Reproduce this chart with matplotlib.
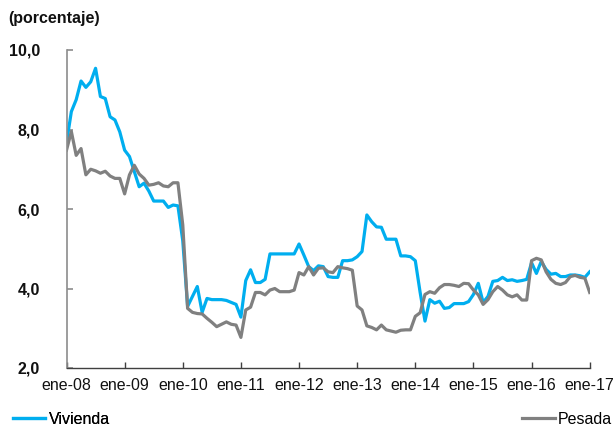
import numpy as np
import matplotlib
matplotlib.use("Agg")
import matplotlib.pyplot as plt

plt.rcParams["font.family"] = ["Liberation Sans", "DejaVu Sans"]

# Monthly rates, ene-2008 .. ene-2017
vivienda = [
    7.66, 8.45, 8.75, 9.22, 9.06, 9.20, 9.54, 8.83, 8.78, 8.32, 8.24, 7.94,
    7.48, 7.32, 6.94, 6.56, 6.65, 6.45, 6.20, 6.20, 6.20, 6.04, 6.10, 6.08,
    5.20, 3.55, 3.80, 4.05, 3.40, 3.75, 3.72, 3.72, 3.72, 3.70, 3.65, 3.60,
    3.28, 4.20, 4.47, 4.15, 4.15, 4.23, 4.87, 4.87, 4.87, 4.87, 4.87, 4.87,
    5.12, 4.84, 4.55, 4.45, 4.57, 4.55, 4.30, 4.28, 4.28, 4.70, 4.70, 4.72,
    4.80, 4.93, 5.85, 5.68, 5.55, 5.54, 5.24, 5.24, 5.24, 4.82, 4.82, 4.80,
    4.70, 3.90, 3.18, 3.72, 3.63, 3.68, 3.50, 3.52, 3.62, 3.62, 3.62, 3.67,
    3.85, 4.13, 3.65, 3.80, 4.18, 4.20, 4.28, 4.20, 4.22, 4.18, 4.20, 4.23,
    4.65, 4.38, 4.68, 4.48, 4.36, 4.38, 4.30, 4.30, 4.34, 4.34, 4.32, 4.28,
    4.42,
]
pesada = [
    7.48, 7.95, 7.35, 7.52, 6.86, 7.00, 6.96, 6.90, 6.95, 6.83, 6.77, 6.77,
    6.38, 6.86, 7.10, 6.88, 6.77, 6.60, 6.62, 6.66, 6.58, 6.56, 6.66, 6.66,
    5.60, 3.50, 3.40, 3.37, 3.36, 3.25, 3.15, 3.04, 3.10, 3.16, 3.10, 3.08,
    2.77, 3.46, 3.53, 3.90, 3.90, 3.84, 3.96, 4.00, 3.92, 3.92, 3.92, 3.96,
    4.40, 4.34, 4.55, 4.34, 4.51, 4.52, 4.42, 4.40, 4.55, 4.52, 4.50, 4.46,
    3.56, 3.46, 3.06, 3.02, 2.96, 3.08, 2.96, 2.93, 2.90, 2.95, 2.96, 2.96,
    3.30, 3.39, 3.85, 3.92, 3.88, 4.02, 4.10, 4.10, 4.08, 4.05, 4.13, 4.12,
    3.96, 3.84, 3.60, 3.72, 3.92, 4.05, 3.96, 3.84, 3.79, 3.84, 3.71, 3.71,
    4.70, 4.76, 4.72, 4.42, 4.23, 4.13, 4.10, 4.15, 4.30, 4.33, 4.28, 4.26,
    3.90,
]
x_labels = ["ene-08", "ene-09", "ene-10", "ene-11", "ene-12",
            "ene-13", "ene-14", "ene-15", "ene-16", "ene-17"]
y_ticks = [2.0, 4.0, 6.0, 8.0, 10.0]

months = np.arange(len(vivienda))

W, H = 616, 426
fig = plt.figure(figsize=(W / 100, H / 100), dpi=100)
left, right, bottom, top = 66.5, 589.7, 368, 50
ax = fig.add_axes([left / W, 1 - bottom / H, (right - left) / W, (bottom - top) / H])

BLUE = "#00AEEF"
GREY = "#808080"
FS = 11.5

l1, = ax.plot(months, vivienda, color=BLUE, lw=2.3, solid_joinstyle="round", label="Vivienda")
l2, = ax.plot(months, pesada, color=GREY, lw=2.3, solid_joinstyle="round", label="Pesada")

ax.set_xlim(0, 108)
ax.set_ylim(2, 10)
ax.set_xticks(np.arange(0, 109, 12))
ax.set_xticklabels(x_labels)
ax.set_yticks(y_ticks)
ax.set_yticklabels([f"{v:.1f}".replace(".", ",") for v in y_ticks], fontweight="bold")

for s in ("top", "right"):
    ax.spines[s].set_visible(False)
ax.spines["left"].set_color("#8c8c8c")
ax.spines["left"].set_linewidth(1.2)
ax.spines["bottom"].set_color("#404040")
ax.spines["bottom"].set_linewidth(1.0)

ax.tick_params(axis="y", direction="in", length=4, width=1.2, color="#8c8c8c",
               labelsize=FS, pad=19, labelcolor="#111111")
ax.tick_params(axis="x", direction="in", length=4, width=1.0, color="#404040",
               labelsize=FS, pad=7, labelcolor="#111111")

fig.text(8 / W, 1 - 18 / H, "(porcentaje)", fontsize=FS, fontweight="bold",
         ha="left", va="center", color="#111111")

leg1 = fig.legend(handles=[l1], loc="center left", bbox_to_anchor=(13 / W, 1 - 419 / H),
                  frameon=False, fontsize=FS, handlelength=2.0, handletextpad=0.25,
                  borderpad=0, borderaxespad=0)
fig.add_artist(leg1)
fig.legend(handles=[l2], loc="center right", bbox_to_anchor=(612 / W, 1 - 419 / H),
           frameon=False, fontsize=FS, handlelength=2.1, handletextpad=0.15,
           borderpad=0, borderaxespad=0)

fig.savefig("out.png", dpi=100)
